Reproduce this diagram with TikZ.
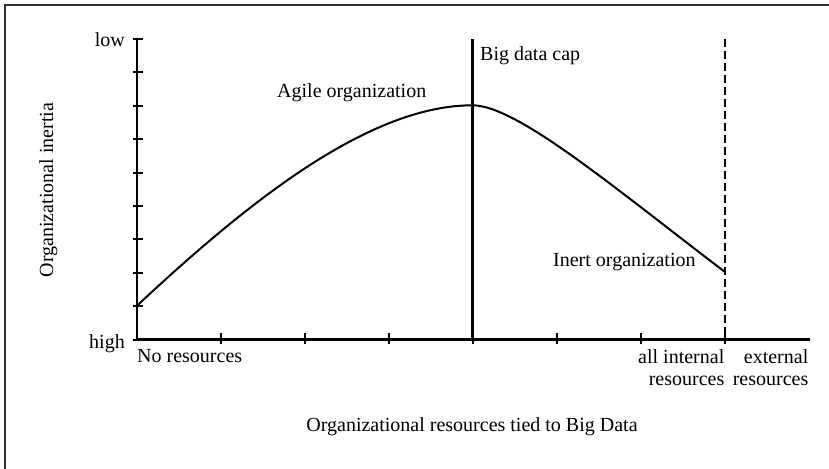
\documentclass[tikz,border=0pt]{standalone}
\usepackage{fontspec}
\setmainfont{Liberation Serif}
\begin{document}
\begin{tikzpicture}[x=1pt,y=-1pt,
  lbl/.style={inner sep=0pt,font=\fontsize{20}{22}\selectfont},
  axis/.style={line width=2.2pt},
  tickmark/.style={line width=2pt},
  curveline/.style={line width=2pt},
  frameline/.style={line width=2pt,draw=black!80}]
\useasboundingbox (0,0) rectangle (829,468);
% frame (only top and left visible)
\coordinate (fbl) at (4.7,470);
\coordinate (ftl) at (4.7,5.5);
\coordinate (ftr) at (831,5.5);
\draw[frameline] (fbl) -- (ftl) -- (ftr);
% axes
\coordinate (O) at (137,339.5);
\coordinate (ytop) at (137,39);
\coordinate (xend) at (810,339.5);
\draw[axis] (ytop) -- (O) -- (xend);
% y ticks
\foreach \k in {0,...,9}{
  \coordinate (yt\k a) at (133,{39+33.39*\k});
  \coordinate (yt\k b) at (143,{39+33.39*\k});
  \draw[tickmark] (yt\k a) -- (yt\k b);
}
% x ticks
\foreach \k in {1,...,7}{
  \coordinate (xt\k a) at ({137+84*\k},333);
  \coordinate (xt\k b) at ({137+84*\k},344);
  \draw[tickmark] (xt\k a) -- (xt\k b);
}
% big data cap line
\coordinate (captop) at (472.5,39);
\coordinate (capbot) at (472.5,339.5);
\draw[axis] (captop) -- (capbot);
% dashed line
\coordinate (dtop) at (725,39);
\coordinate (dbot) at (725,339.5);
\draw[line width=2pt,dash pattern=on 8pt off 4pt] (dtop) -- (dbot);
% curve
\coordinate (cstart) at (137,305.7);
\coordinate (peak) at (472.5,105.3);
\coordinate (cend) at (725,272);
\draw[curveline] (cstart) .. controls (250,200) and (370,105.3) .. (peak)
  .. controls (517,105.3) and (615,188.4) .. (cend);
% labels
\node[lbl,anchor=base east] (low) at (125,46.7) {low};
\node[lbl,anchor=base east] (high) at (125,348.3) {high};
\node[lbl,anchor=base,rotate=90] (ylab) at (53,190) {Organizational inertia};
\node[lbl,anchor=base west] (nores) at (137,362.3) {No resources};
\node[lbl,anchor=base west] (agile) at (277,97.7) {Agile organization};
\node[lbl,anchor=base west] (cap) at (480,60.7) {Big data cap};
\node[lbl,anchor=base west] (inert) at (553,266) {Inert organization};
\node[lbl,anchor=base east,align=right] (allint) at (724.5,385) {all internal\\resources};
\node[lbl,anchor=base east,align=right] (ext) at (808.5,385) {external\\resources};
\node[lbl,anchor=base] (xlab) at (472,431) {Organizational resources tied to Big Data};
\end{tikzpicture}
\end{document}
